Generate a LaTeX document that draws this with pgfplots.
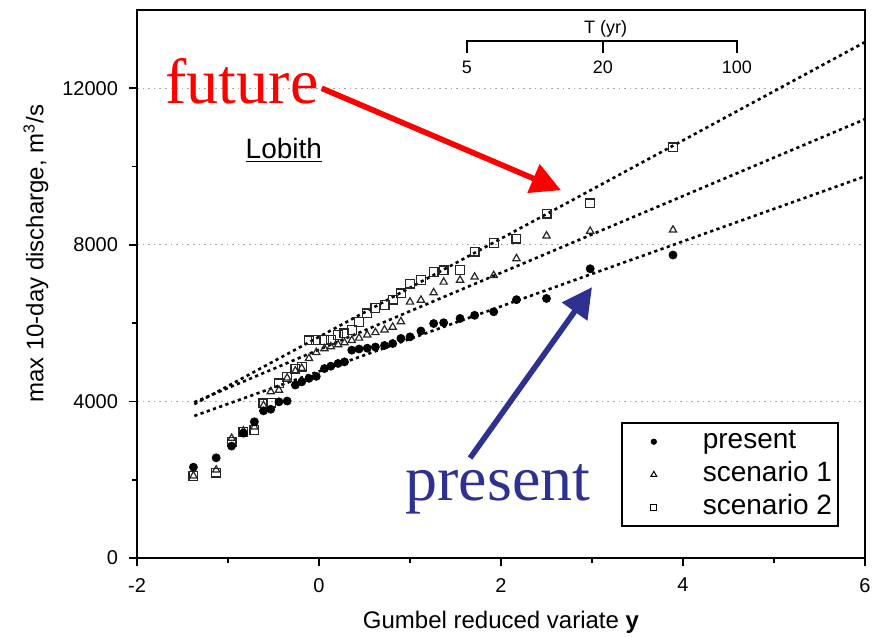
\documentclass[border=0pt]{standalone}
\usepackage{fontspec}
\setmainfont{Liberation Sans}
\newfontfamily\timesfont{Liberation Serif}
\usepackage{pgfplots}
\usepackage{pgfplotstable}
\pgfplotsset{compat=1.18}
\usetikzlibrary{arrows.meta}
\definecolor{fred}{RGB}{255,0,0}
\definecolor{pblue}{RGB}{46,49,146}

\pgfplotstableread{
x      p     sa    sb
-1.38 2320 2100 2094
-1.13 2560 2250 2180
-0.96 2860 3060 2970
-0.83 3190 3250 3230
-0.71 3480 3350 3270
-0.61 3760 3900 3950
-0.53 3800 4250 3970
-0.44 3990 4290 4460
-0.35 4010 4600 4630
-0.26 4420 4780 4840
-0.19 4500 4850 4890
-0.11 4590 5100 5560
-0.03 4640 5250 5570
0.06 4840 5350 5570
0.13 4900 5400 5580
0.21 4970 5450 5690
0.28 5010 5500 5740
0.36 5310 5560 5820
0.44 5340 5620 6030
0.53 5360 5700 6250
0.62 5390 5760 6380
0.72 5430 5830 6460
0.81 5480 5900 6600
0.90 5610 6040 6760
1.00 5650 6540 7010
1.12 5800 6590 7100
1.26 5990 6780 7310
1.37 6010 7050 7350
1.55 6120 7100 7360
1.71 6200 7180 7830
1.92 6290 7220 8040
2.17 6600 7650 8160
2.50 6630 8230 8800
2.98 7390 8350 9060
3.89 7740 8380 10490
}\gumbeldata

\begin{document}
\begin{tikzpicture}
\begin{axis}[
  name=ax,
  scale only axis,
  width=364pt, height=274pt,
  xmin=-2, xmax=6, ymin=0, ymax=14000,
  xtick={-2,0,2,4,6}, ytick={0,4000,8000,12000},
  minor x tick num=1, minor y tick num=1,
  tick pos=left, tick align=outside,
  major tick length=4pt, minor tick length=2.5pt,
  every tick/.style={black, line width=0.8pt},
  axis line style={black, line width=1pt},
  scaled y ticks=false,
  /pgf/number format/1000 sep={},
  /pgf/number format/assume math mode=true,
  ticklabel style={font=\fontsize{10}{12}\selectfont},
  yticklabel style={xshift=-2pt},
  xticklabel style={yshift=-2.5pt},
  ymajorgrids,
  major grid style={gray!70, line width=0.6pt, dash pattern=on 0.8pt off 2pt},
  xlabel={Gumbel reduced variate \textbf{y}},
  ylabel={max 10-day discharge, m\textsuperscript{3}/s},
  label style={font=\fontsize{12}{14}\selectfont},
  xlabel style={at={(axis description cs:0.5,-0.117)}, anchor=center},
  ylabel style={at={(axis description cs:-0.139,0.555)}, anchor=center},
  legend image code/.code={\path[draw=none, fill=none] (0pt,-1pt) rectangle (30pt,1pt); \draw[#1] plot coordinates {(15pt,0pt)};},
  legend style={at={(0.964,0.0566)}, anchor=south east, draw=black, line width=0.8pt,
    font=\fontsize{14}{16}\selectfont, inner xsep=1pt, inner ysep=1pt, column sep=7.5pt,
    nodes={inner ysep=1.75pt, inner xsep=2pt, text height=10pt, text depth=3pt}},
  legend cell align=left,
]
\addlegendimage{only marks, mark=*, mark size=1.3pt, black, line width=0.5pt}
\addlegendimage{only marks, mark=triangle, mark size=1.7pt, black, line width=0.5pt}
\addlegendimage{only marks, mark=square, mark size=1.5pt, black, line width=0.5pt}
\legend{present, scenario 1, scenario 2}

% fitted lines
\addplot[black, line width=1.3pt, dash pattern=on 1.6pt off 1.7pt, forget plot] coordinates {(-1.37,3630) (6,9750)};
\addplot[black, line width=1.3pt, dash pattern=on 1.6pt off 1.7pt, forget plot] coordinates {(-1.37,3980) (6,11210)};
\addplot[black, line width=1.3pt, dash pattern=on 1.6pt off 1.7pt, forget plot] coordinates {(-1.37,3930) (6,13180)};

% data
\addplot[only marks, mark=square, mark size=2.2pt, black!85, line width=0.6pt, forget plot] table[x=x, y=sb] {\gumbeldata};
\addplot[only marks, mark=triangle, mark size=2.1pt, black!85, line width=0.6pt, forget plot] table[x=x, y=sa] {\gumbeldata};
\addplot[only marks, mark=*, mark size=2pt, black, forget plot] table[x=x, y=p] {\gumbeldata};

% return period scale
\draw[black, line width=0.9pt] (axis cs:1.626,12890) -- (axis cs:1.626,13200) -- (axis cs:4.593,13200) -- (axis cs:4.593,12890);
\draw[black, line width=0.9pt] (axis cs:3.12,13200) -- (axis cs:3.12,12890);
\node[font=\fontsize{9}{10}\selectfont] at (axis cs:1.626,12545) {5};
\node[font=\fontsize{9}{10}\selectfont] at (axis cs:3.12,12545) {20};
\node[font=\fontsize{9}{10}\selectfont] at (axis cs:4.593,12545) {100};
\node[font=\fontsize{9}{10}\selectfont] at (axis cs:3.15,13510) {T (yr)};

% Lobith
\node[anchor=base west, inner sep=0pt, font=\fontsize{14}{16}\selectfont] at (axis cs:-0.81,10215) {\underline{Lobith}};

% annotations
\node[anchor=base west, inner sep=0pt, text=fred, font=\timesfont\fontsize{32}{36}\selectfont] at (axis cs:-1.69,11600) {future};
\draw[fred, line width=2.8pt, -{Triangle[length=15pt, width=15pt]}] (axis cs:0.03,12000) -- (axis cs:2.66,9396);
\node[anchor=base west, inner sep=0pt, text=pblue, font=\timesfont\fontsize{32}{36}\selectfont] at (axis cs:0.945,1480) {present};
\draw[pblue, line width=2.8pt, -{Triangle[length=15pt, width=15pt]}] (axis cs:1.66,2553) -- (axis cs:3.0,6919);
\end{axis}
\pgfresetboundingbox
\path (ax.south west) ++(-68.5pt,-39pt) coordinate (bl);
\path (ax.north east) ++(5.5pt,5pt) coordinate (tr);
\path (bl) rectangle (tr);
\end{tikzpicture}
\end{document}
